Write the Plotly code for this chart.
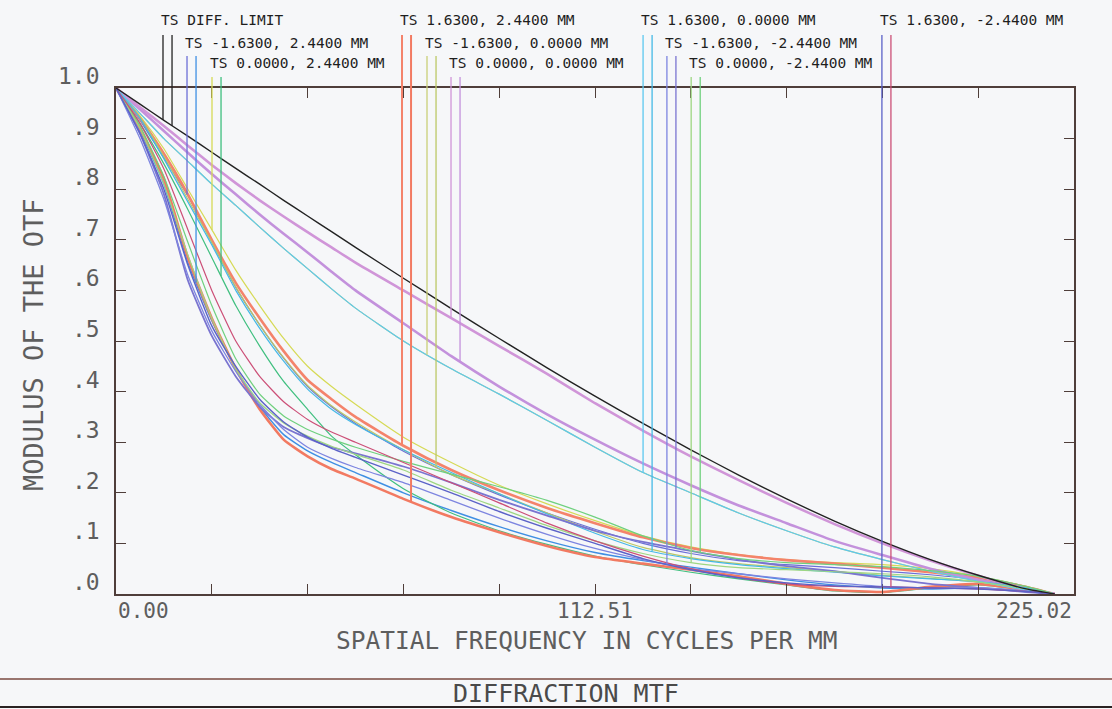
import numpy as np
import plotly.graph_objects as go

# ---------------- data ----------------
FREQ = [0, 5.63, 11.25, 16.88, 22.5, 28.13, 33.75, 39.38, 45.0, 50.63, 56.25,
        67.51, 78.76, 90.01, 101.26, 112.51, 123.76, 135.01, 146.26, 157.51,
        168.77, 180.02, 191.27, 202.52, 213.77, 220.5]

DIFF = [1, .968, .936, .905, .873, .841, .810, .778, .747, .716, .685, .624, .564,
        .505, .447, .391, .337, .285, .235, .188, .144, .104, .068, .037, .010, 0]

F1_T = [1, .936, .862, .787, .695, .606, .532, .466, .410, .370, .337, .282, .236,
        .196, .160, .128, .100, .080, .066, .058, .052, .045, .038, .028, .012, 0]
F1_S = [1, .915, .810, .655, .540, .445, .370, .315, .283, .260, .240, .200, .165,
        .133, .105, .082, .066, .053, .040, .028, .018, .012, .010, .012, .006, 0]
F2_T = [1, .945, .880, .800, .720, .640, .570, .505, .450, .410, .375, .310, .260,
        .215, .178, .145, .115, .093, .078, .068, .062, .058, .050, .035, .015, 0]
F2_S = [1, .930, .850, .760, .665, .570, .490, .420, .365, .312, .275, .208, .160,
        .125, .098, .075, .058, .043, .030, .018, .006, .003, .012, .018, .008, 0]
F3_T = [1, .940, .870, .790, .700, .615, .545, .480, .423, .385, .350, .293, .245,
        .205, .170, .140, .112, .091, .077, .067, .060, .052, .043, .032, .014, 0]
F3_S = [1, .920, .820, .665, .545, .445, .365, .305, .272, .247, .228, .188, .152,
        .122, .095, .073, .060, .048, .035, .020, .008, .004, .014, .020, .008, 0]
F4_T = [1, .950, .900, .855, .810, .768, .725, .683, .643, .603, .565, .500, .445,
        .395, .343, .290, .240, .200, .160, .125, .093, .068, .045, .025, .008, 0]
F4_S = [1, .942, .865, .780, .695, .607, .532, .467, .412, .372, .340, .285, .236,
        .198, .160, .124, .092, .072, .060, .052, .045, .037, .031, .024, .012, 0]
F5_T = [1, .962, .925, .886, .848, .812, .778, .746, .715, .685, .655, .600, .545,
        .490, .435, .377, .323, .272, .225, .180, .138, .100, .066, .036, .010, 0]
F5_S = [1, .958, .915, .872, .830, .790, .750, .712, .675, .637, .600, .535, .470,
        .410, .355, .305, .258, .215, .175, .140, .105, .077, .050, .028, .008, 0]
F6_T = [1, .950, .900, .855, .810, .768, .725, .683, .643, .603, .565, .500, .445,
        .395, .343, .290, .240, .200, .160, .125, .093, .068, .045, .025, .008, 0]
F6_S = [1, .940, .860, .775, .690, .600, .525, .460, .405, .365, .335, .285, .240,
        .198, .158, .120, .088, .070, .058, .050, .043, .036, .030, .024, .012, 0]
F7_T = [1, .900, .780, .630, .520, .440, .375, .325, .290, .268, .250, .220, .185,
        .150, .118, .090, .068, .050, .040, .030, .022, .015, .012, .012, .006, 0]
F7_S = [1, .910, .790, .620, .510, .430, .370, .330, .308, .290, .278, .252, .220,
        .186, .155, .125, .103, .085, .068, .055, .045, .032, .020, .012, .004, 0]
F8_T = [1, .920, .810, .670, .545, .445, .378, .338, .312, .292, .276, .245, .205,
        .170, .135, .105, .080, .062, .052, .048, .044, .040, .034, .024, .010, 0]
F8_S = [1, .925, .825, .695, .570, .465, .395, .352, .325, .306, .290, .262, .237,
        .212, .185, .152, .115, .086, .070, .062, .058, .054, .046, .035, .015, 0]
F9_T = [1, .910, .800, .650, .530, .450, .385, .340, .310, .288, .270, .235, .200,
        .163, .130, .100, .070, .048, .032, .022, .016, .014, .012, .010, .005, 0]
F9_S = [1, .930, .840, .720, .600, .500, .430, .380, .345, .320, .300, .260, .220,
        .180, .140, .105, .075, .050, .032, .020, .015, .014, .012, .010, .005, 0]

LEGEND_LABELS = ["TS DIFF. LIMIT",
                 "TS -1.6300, 2.4400 MM", "TS 0.0000, 2.4400 MM", "TS 1.6300, 2.4400 MM",
                 "TS -1.6300, 0.0000 MM", "TS 0.0000, 0.0000 MM", "TS 1.6300, 0.0000 MM",
                 "TS -1.6300, -2.4400 MM", "TS 0.0000, -2.4400 MM", "TS 1.6300, -2.4400 MM"]
LEGEND_FREQ = [11.04, 16.68, 22.55, 67.18, 73.05, 78.69, 123.8, 129.4, 135.1, 179.9]
LEGEND_ROW = [1, 2, 3, 1, 2, 3, 1, 2, 3, 1]
S_OFFSET = 2.12

Y_TICKS = [0, .1, .2, .3, .4, .5, .6, .7, .8, .9, 1.0]
Y_LABELS = [".0", ".1", ".2", ".3", ".4", ".5", ".6", ".7", ".8", ".9", "1.0"]
X_TICK_LABELS = ["0.00", "112.51", "225.02"]
X_TICK_VALUES = [0, 112.51, 225.02]
X_MAX = 225.02

SERIES = [(DIFF, DIFF), (F1_T, F1_S), (F2_T, F2_S), (F3_T, F3_S), (F4_T, F4_S),
          (F5_T, F5_S), (F6_T, F6_S), (F7_T, F7_S), (F8_T, F8_S), (F9_T, F9_S)]
COLORS = [("#222222", "#222222"), ("#6b6fd6", "#3f8fe3"), ("#d6da55", "#3fbf7f"),
          ("#f4836b", "#f27a62"), ("#c9cf78", "#bcc866"), ("#d095d8", "#c391dc"),
          ("#5cc8ef", "#45b9e6"), ("#7d85e0", "#7a74d0"), ("#9ed682", "#6fd07e"),
          ("#5b62c8", "#cc4f77")]
WIDTHS = [(1.4, 1.4), (1.2, 1.4), (1.2, 1.2), (2.6, 2.6), (1.2, 1.2), (2.6, 2.6),
          (1.2, 1.2), (1.3, 1.8), (1.2, 1.2), (1.4, 1.2)]

# ---------------- figure ----------------
W, H = 1112, 709
L, R, T, B = 116, 38, 88, 115
PW, PH = W - L - R, H - T - B
BG = "#f6f7f9"
FONT = "DejaVu Sans Mono"
FRAME = "#4f3e3a"
TXT = "#5e5e5e"

fig = go.Figure()

order = list(range(1, 10)) + [0]
for i in order:
    ts, ss = SERIES[i]
    ct, cs = COLORS[i]
    wt, wss = WIDTHS[i]
    pairs = [(ss, cs, wss), (ts, ct, wt)] if i != 0 else [(ts, ct, wt)]
    for ys, c, w in pairs:
        fig.add_trace(go.Scatter(x=FREQ, y=ys, mode="lines",
                                 line=dict(color=c, width=w, shape="spline", smoothing=0.5),
                                 showlegend=False, hoverinfo="skip"))


def py_to_paper(py):
    return ((H - B) - py) / PH


row_text_y = {1: py_to_paper(20), 2: py_to_paper(43), 3: py_to_paper(63)}
row_line_top = {1: py_to_paper(35), 2: py_to_paper(56), 3: py_to_paper(77)}

shapes = []
annotations = []
for i, lab in enumerate(LEGEND_LABELS):
    row = LEGEND_ROW[i]
    ts, ss = SERIES[i]
    ct, cs = COLORS[i]
    f_t = LEGEND_FREQ[i]
    f_s = f_t + S_OFFSET
    lw = 2.0 if i == 3 else 1.3
    for f, ys, c in ((f_t, ts, ct), (f_s, ss, cs)):
        yend = float(np.interp(f, FREQ, ys))
        shapes.append(dict(type="line", xref="x", yref="paper", x0=f, x1=f,
                           y0=row_line_top[row], y1=yend,
                           line=dict(color=c, width=lw)))
    annotations.append(dict(text=lab, xref="x", yref="paper", x=f_t, y=row_text_y[row],
                            xanchor="left", yanchor="middle", xshift=-4, showarrow=False,
                            font=dict(family=FONT, size=14.5, color="#1e1e1e")))

# y tick labels
for v, lab in zip(Y_TICKS, Y_LABELS):
    annotations.append(dict(text=lab, xref="paper", yref="paper", x=(102 - L) / PW, y=v,
                            xanchor="right", yanchor="middle", yshift=12, showarrow=False,
                            font=dict(family=FONT, size=23, color=TXT)))
# x tick labels
for v, lab, anc in zip(X_TICK_VALUES, X_TICK_LABELS, ["left", "center", "right"]):
    annotations.append(dict(text=lab, xref="x", yref="paper", x=v, y=0,
                            xanchor=anc, yanchor="top", yshift=-3, showarrow=False,
                            font=dict(family=FONT, size=21, color=TXT)))
# axis titles
annotations.append(dict(text="SPATIAL FREQUENCY IN CYCLES PER MM", xref="paper", yref="paper",
                        x=(587 - L) / PW, y=py_to_paper(624), xanchor="center", yanchor="top",
                        showarrow=False, font=dict(family=FONT, size=24.5, color=TXT)))
annotations.append(dict(text="MODULUS OF THE OTF", xref="paper", yref="paper",
                        x=(33 - L) / PW, y=py_to_paper(345), xanchor="center", yanchor="middle",
                        textangle=-90, showarrow=False,
                        font=dict(family=FONT, size=27, color=TXT)))
annotations.append(dict(text="DIFFRACTION MTF", xref="paper", yref="paper",
                        x=(566 - L) / PW, y=py_to_paper(693), xanchor="center", yanchor="middle",
                        showarrow=False, font=dict(family=FONT, size=25, color="#4a4a4a")))

# bottom title box lines
shapes.append(dict(type="line", xref="paper", yref="paper", x0=(0 - L) / PW, x1=(W - L) / PW,
                   y0=py_to_paper(679), y1=py_to_paper(679),
                   line=dict(color="#7a4a40", width=1.6)))
shapes.append(dict(type="line", xref="paper", yref="paper", x0=(0 - L) / PW, x1=(W - L) / PW,
                   y0=py_to_paper(707), y1=py_to_paper(707),
                   line=dict(color="#2a2222", width=2)))

axis_common = dict(showgrid=False, zeroline=False, showline=True, linecolor=FRAME, linewidth=1.6,
                   mirror="ticks", ticks="inside", ticklen=10, tickwidth=1.4, tickcolor=FRAME,
                   showticklabels=False, fixedrange=True)
fig.update_layout(
    width=W, height=H,
    margin=dict(l=L, r=R, t=T, b=B, pad=0),
    paper_bgcolor=BG, plot_bgcolor=BG,
    xaxis=dict(range=[0, X_MAX], tick0=0, dtick=X_MAX / 10, **axis_common),
    yaxis=dict(range=[0, 1], tick0=0, dtick=0.1, **axis_common),
    shapes=shapes, annotations=annotations, showlegend=False,
)

fig.write_html("out.html", config={"displayModeBar": False})
